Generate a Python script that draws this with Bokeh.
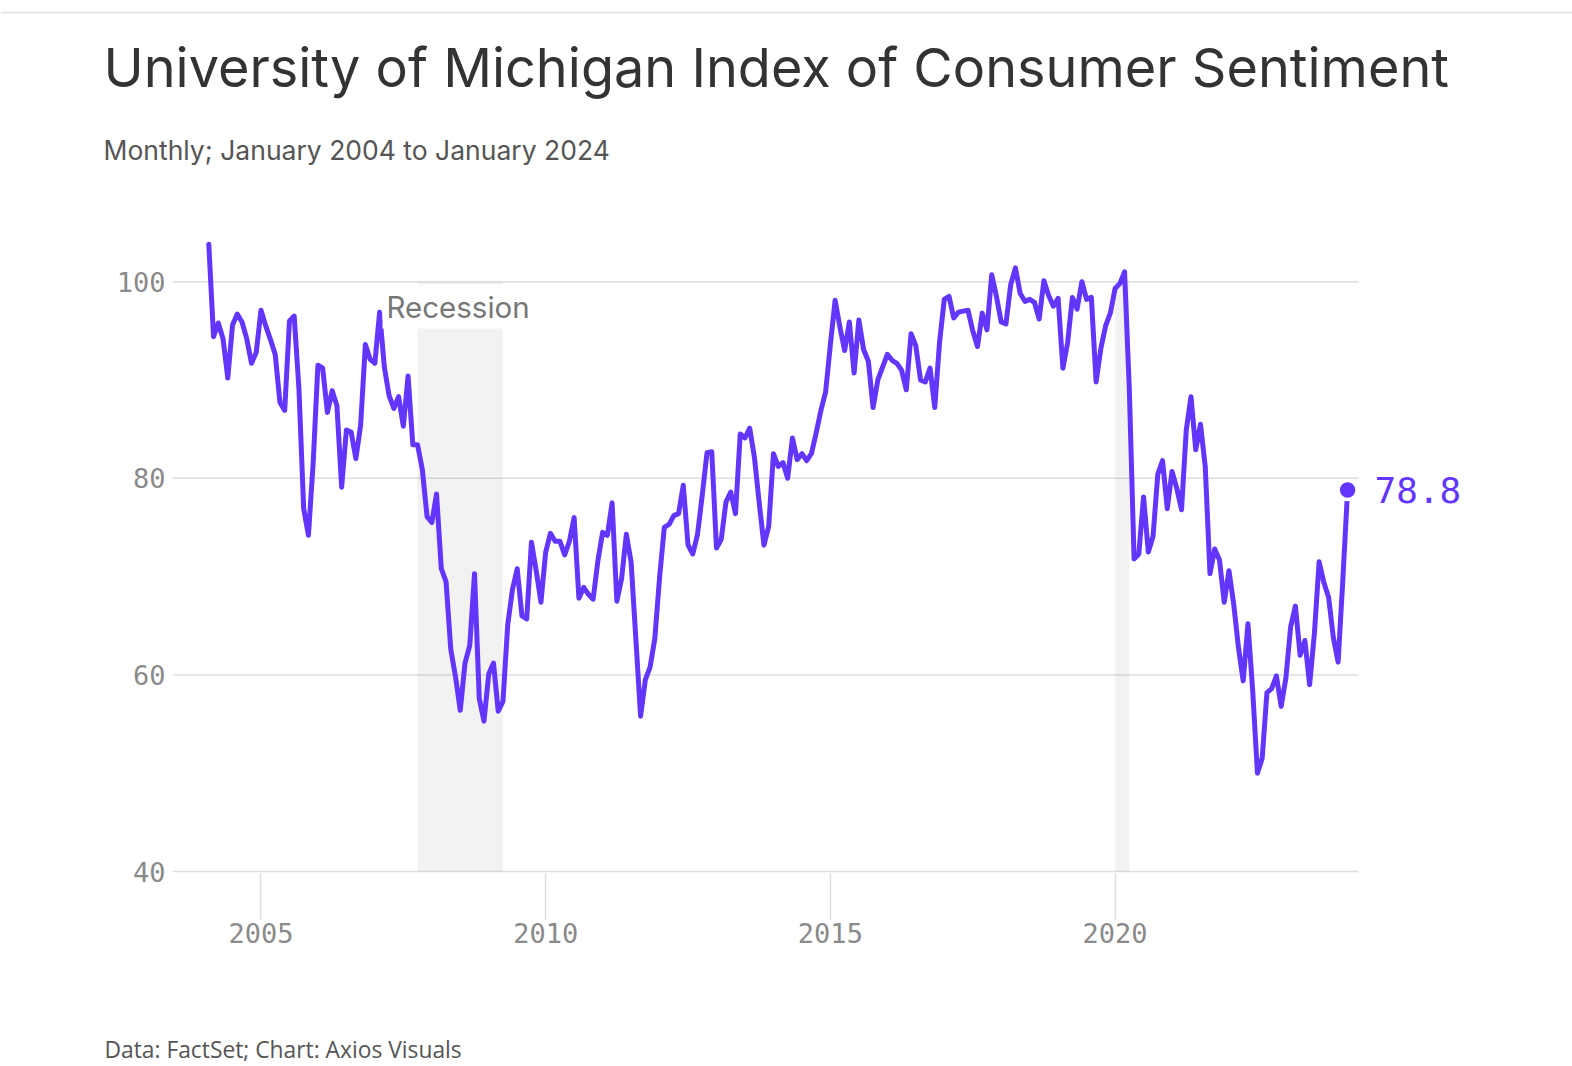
from bokeh.plotting import figure
from bokeh.layouts import column
from bokeh.models import Label, FixedTicker, PrintfTickFormatter, Range1d
from bokeh.core.properties import value
from bokeh.embed import file_html
from bokeh.resources import INLINE

# ---------------- data ----------------
sentiment_2004 = [103.8, 94.4, 95.8, 94.2, 90.2, 95.6, 96.7, 95.9, 94.2, 91.7, 92.8, 97.1]
sentiment_2005 = [95.5, 94.1, 92.6, 87.7, 86.9, 96.0, 96.5, 89.1, 76.9, 74.2, 81.6, 91.5]
sentiment_2006 = [91.2, 86.7, 88.9, 87.4, 79.1, 84.9, 84.7, 82.0, 85.4, 93.6, 92.1, 91.7]
sentiment_2007 = [96.9, 91.3, 88.4, 87.1, 88.3, 85.3, 90.4, 83.4, 83.4, 80.9, 76.1, 75.5]
sentiment_2008 = [78.4, 70.8, 69.5, 62.6, 59.8, 56.4, 61.2, 63.0, 70.3, 57.6, 55.3, 60.1]
sentiment_2009 = [61.2, 56.3, 57.3, 65.1, 68.7, 70.8, 66.0, 65.7, 73.5, 70.6, 67.4, 72.5]
sentiment_2010 = [74.4, 73.6, 73.6, 72.2, 73.6, 76.0, 67.8, 68.9, 68.2, 67.7, 71.6, 74.5]
sentiment_2011 = [74.2, 77.5, 67.5, 69.8, 74.3, 71.5, 63.7, 55.8, 59.5, 60.8, 63.7, 69.9]
sentiment_2012 = [75.0, 75.3, 76.2, 76.4, 79.3, 73.2, 72.3, 74.3, 78.3, 82.6, 82.7, 72.9]
sentiment_2013 = [73.8, 77.6, 78.6, 76.4, 84.5, 84.1, 85.1, 82.1, 77.5, 73.2, 75.1, 82.5]
sentiment_2014 = [81.2, 81.6, 80.0, 84.1, 81.9, 82.5, 81.8, 82.5, 84.6, 86.9, 88.8, 93.6]
sentiment_2015 = [98.1, 95.4, 93.0, 95.9, 90.7, 96.1, 93.1, 91.9, 87.2, 90.0, 91.3, 92.6]
sentiment_2016 = [92.0, 91.7, 91.0, 89.0, 94.7, 93.5, 90.0, 89.8, 91.2, 87.2, 93.8, 98.2]
sentiment_2017 = [98.5, 96.3, 96.9, 97.0, 97.1, 95.0, 93.4, 96.8, 95.1, 100.7, 98.5, 95.9]
sentiment_2018 = [95.7, 99.7, 101.4, 98.8, 98.0, 98.2, 97.9, 96.2, 100.1, 98.6, 97.5, 98.3]
sentiment_2019 = [91.2, 93.8, 98.4, 97.2, 100.0, 98.2, 98.4, 89.8, 93.2, 95.5, 96.8, 99.3]
sentiment_2020 = [99.8, 101.0, 89.1, 71.8, 72.3, 78.1, 72.5, 74.1, 80.4, 81.8, 76.9, 80.7]
sentiment_2021 = [79.0, 76.8, 84.9, 88.3, 82.9, 85.5, 81.2, 70.3, 72.8, 71.7, 67.4, 70.6]
sentiment_2022 = [67.2, 62.8, 59.4, 65.2, 58.4, 50.0, 51.5, 58.2, 58.6, 59.9, 56.8, 59.7]
sentiment_2023 = [64.9, 67.0, 62.0, 63.5, 59.0, 64.2, 71.5, 69.4, 67.9, 63.8, 61.3, 69.7]
sentiment_2024 = [78.8]

yearly = [sentiment_2004, sentiment_2005, sentiment_2006, sentiment_2007, sentiment_2008,
          sentiment_2009, sentiment_2010, sentiment_2011, sentiment_2012, sentiment_2013,
          sentiment_2014, sentiment_2015, sentiment_2016, sentiment_2017, sentiment_2018,
          sentiment_2019, sentiment_2020, sentiment_2021, sentiment_2022, sentiment_2023,
          sentiment_2024]
first_year = 2004

# recession shading as drawn in the chart (start of month -> end of month)
recession_start = ["2007-10", "2020-01"]
recession_end = ["2009-03", "2020-03"]

y_ticks = [40, 60, 80, 100]
x_ticks = [2005, 2010, 2015, 2020]

title_text = "University of Michigan Index of Consumer Sentiment"
subtitle_text = "Monthly; January 2004 to January 2024"
source_text = "Data: FactSet; Chart: Axios Visuals"
recession_text = "Recession"

# ---------------- build series ----------------
xs, ys = [], []
for i, vals in enumerate(yearly):
    yr = first_year + i
    for m, v in enumerate(vals, start=1):
        xs.append(yr + m / 12.0)   # each month drawn at its end
        ys.append(v)

def month_start(s):
    y, m = s.split("-")
    return int(y) + (int(m) - 1) / 12.0

def month_end(s):
    y, m = s.split("-")
    return int(y) + int(m) / 12.0

rec_left = [month_start(s) for s in recession_start]
rec_right = [month_end(s) for s in recession_end]

# ---------------- layout constants ----------------
W = 1572
H_HEAD, H_MAIN, H_FOOT = 200, 806, 60
PURPLE = "#6236ff"
GRID = "#dedede"
TICKTXT = "#8a8a8a"

# main plot frame, in page pixels
FL, FT, FB = 172, 232, 873
FR = 1540                      # frame extends right so the end label shows
GRID_RIGHT_PX = 1358
PX_PER_YEAR = 56.94
X0 = 2003.446
X1 = X0 + (FR - FL) / PX_PER_YEAR
GRID_END = X0 + (GRID_RIGHT_PX - FL) / PX_PER_YEAR
Y0, Y1 = 39.8, 105.0

def px2x(px):
    return X0 + (px - FL) / PX_PER_YEAR

def py2y(py):
    return Y0 + (FB - py) * (Y1 - Y0) / (FB - FT)

# ---------------- header ----------------
head = figure(width=W, height=H_HEAD, x_range=Range1d(0, W), y_range=Range1d(H_HEAD, 0),
              x_axis_type=None, y_axis_type=None, output_backend="svg",
              toolbar_location=None, min_border=0, frame_align=False)
head.outline_line_color = None
head.grid.visible = False
head.segment(x0=[0], y0=[12], x1=[W], y1=[12], line_color="#e6e6e6", line_width=2)
head.text(x=[103], y=[67], text=[title_text], text_font=value("Inter"),
          text_font_size=value("54px"), text_color="#333333", text_baseline="middle")
head.text(x=[103], y=[149.5], text=[subtitle_text], text_font=value("Inter"),
          text_font_size=value("26.5px"), text_color="#555555", text_baseline="middle")

# ---------------- main chart ----------------
top_off = H_HEAD
p = figure(width=W, height=H_MAIN, x_range=Range1d(X0, X1), y_range=Range1d(Y0, Y1),
           output_backend="svg", toolbar_location=None, frame_align=False,
           min_border_left=FL, min_border_right=W - FR,
           min_border_top=FT - top_off, min_border_bottom=(top_off + H_MAIN) - FB)
p.outline_line_color = None
p.background_fill_color = "white"
p.border_fill_color = "white"
p.xgrid.visible = False
p.ygrid.visible = False

# horizontal gridlines at the y ticks, ending where the chart's gridlines end
p.segment(x0=[X0] * len(y_ticks), x1=[GRID_END] * len(y_ticks), y0=y_ticks, y1=y_ticks,
          line_color=GRID, line_width=1.5)

# recession bands
p.quad(left=rec_left, right=rec_right, bottom=40, top=100,
       fill_color="black", fill_alpha=0.05, line_color=None)

# axes
p.yaxis.ticker = FixedTicker(ticks=y_ticks)
p.yaxis.axis_line_color = None
p.yaxis.major_tick_line_color = None
p.yaxis.major_tick_out = 0
p.yaxis.major_tick_in = 0
p.yaxis.minor_tick_line_color = None
p.yaxis.major_label_standoff = 7
p.yaxis.major_label_text_font = "DejaVu Sans Mono"
p.yaxis.major_label_text_font_size = "27px"
p.yaxis.major_label_text_color = TICKTXT

p.xaxis.ticker = FixedTicker(ticks=x_ticks)
p.xaxis.formatter = PrintfTickFormatter(format="%d")
p.xaxis.axis_line_color = None
p.xaxis.major_tick_line_color = GRID
p.xaxis.major_tick_line_width = 1.5
p.xaxis.major_tick_out = 46
p.xaxis.major_tick_in = 0
p.xaxis.minor_tick_line_color = None
p.xaxis.major_label_standoff = 3
p.xaxis.major_label_text_font = "DejaVu Sans Mono"
p.xaxis.major_label_text_font_size = "27px"
p.xaxis.major_label_text_color = TICKTXT

# series
p.line(xs, ys, line_color=PURPLE, line_width=5, line_join="round", line_cap="round")
p.scatter([xs[-1]], [ys[-1]], size=19, fill_color=PURPLE, line_color="white", line_width=3.5)

# annotations
p.add_layout(Label(x=xs[-1], y=ys[-1], x_offset=27, y_offset=0, text=f"{ys[-1]:.1f}",
                   text_font="DejaVu Sans Mono", text_font_size="36px",
                   text_color=PURPLE, text_baseline="middle", text_align="left"))

p.add_layout(Label(x=px2x(382), y=py2y(306), text=recession_text,
                   text_font="Inter", text_font_size="29.5px", text_color="#777777",
                   text_baseline="alphabetic", text_align="left",
                   background_fill_color="white", padding=4))

# ---------------- footer ----------------
foot = figure(width=W, height=H_FOOT, x_range=Range1d(0, W),
              y_range=Range1d(H_HEAD + H_MAIN + H_FOOT, H_HEAD + H_MAIN),
              x_axis_type=None, y_axis_type=None, output_backend="svg",
              toolbar_location=None, min_border=0, frame_align=False)
foot.outline_line_color = None
foot.grid.visible = False
foot.text(x=[104], y=[1049], text=[source_text], text_font=value("Open Sans"),
          text_font_size=value("22.8px"), text_color="#555555", text_baseline="middle")

layout = column(head, p, foot, spacing=0)
open("out.html", "w").write(file_html(layout, INLINE))
